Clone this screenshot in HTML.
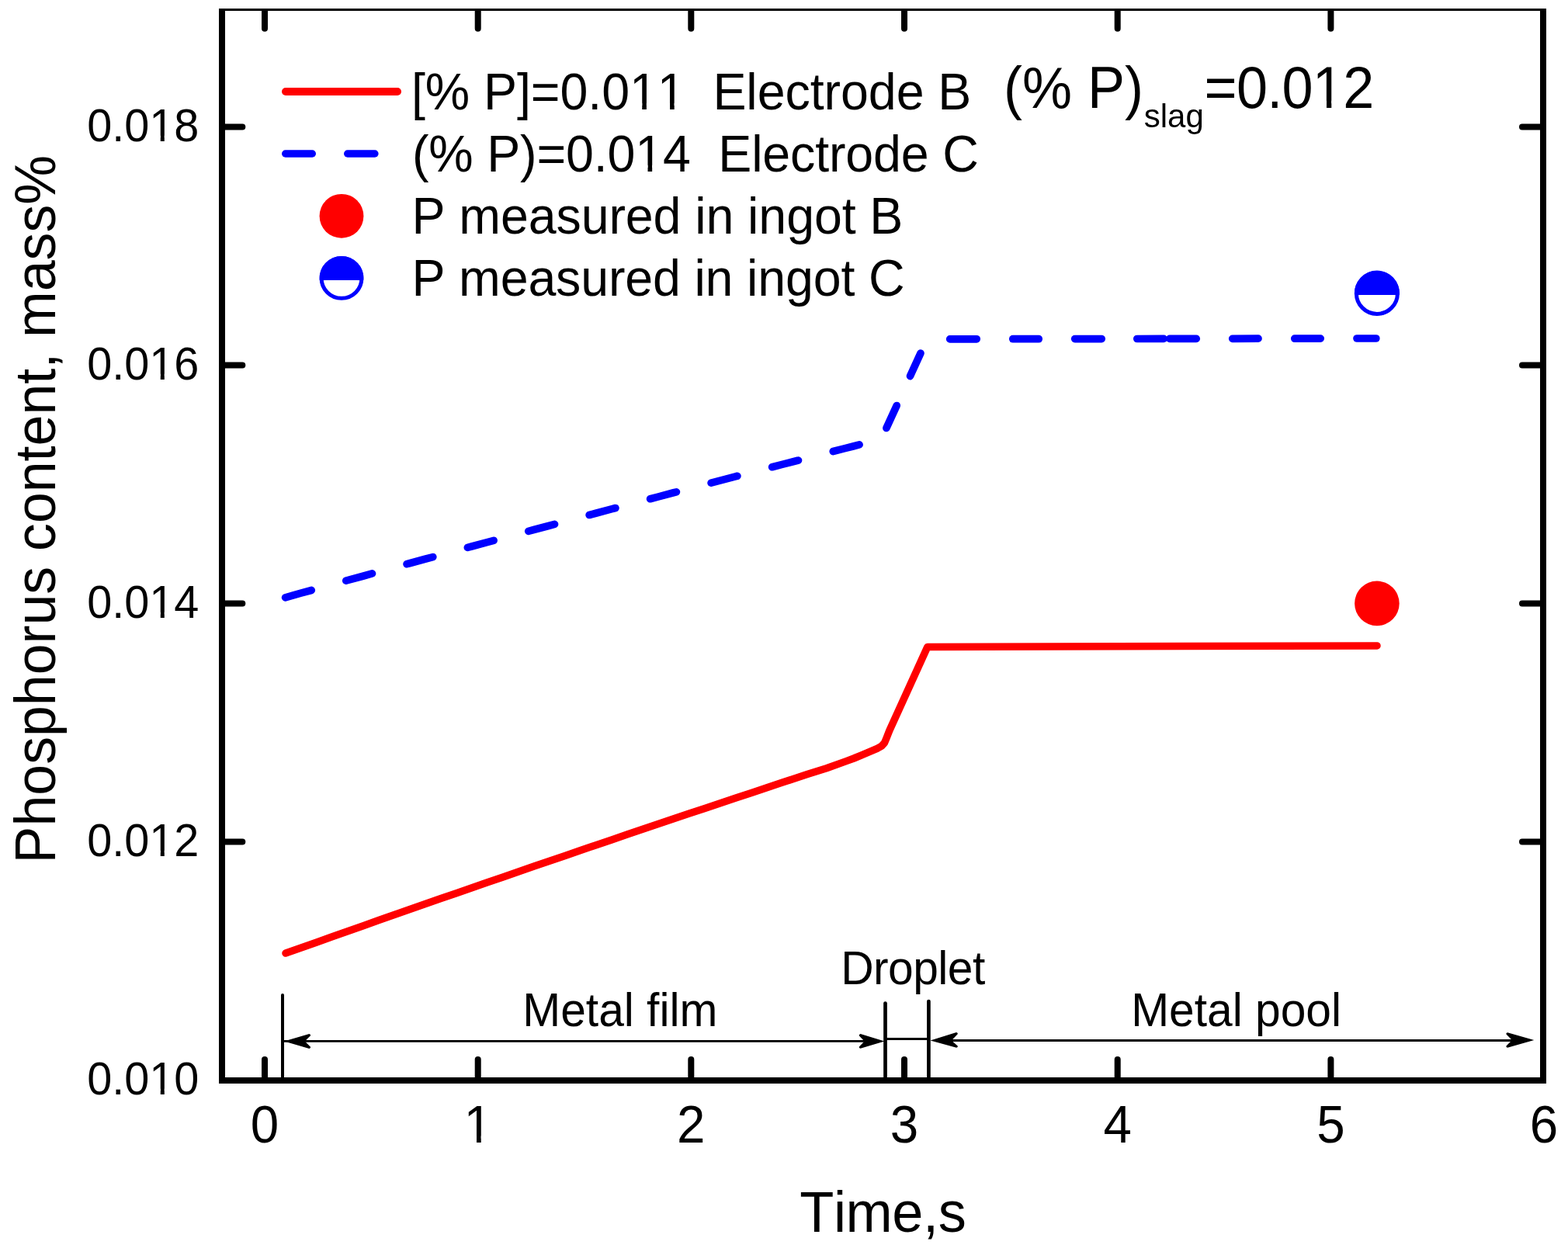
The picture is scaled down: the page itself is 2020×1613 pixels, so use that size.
<!DOCTYPE html>
<html><head><meta charset="utf-8"><title>Phosphorus content vs time</title><style>html,body{margin:0;padding:0;background:#fff;overflow:hidden;}svg{display:block;}text{font-family:"Liberation Sans",Arial,sans-serif;white-space:pre;fill:#000;font-kerning:none;}</style></head><body>
<svg width="2020" height="1613" viewBox="0 0 2020 1613">
<rect width="2020" height="1613" fill="#fff"/>
<g fill="#000"><rect x="282" y="11" width="8" height="1385"/><rect x="282" y="1388" width="1710" height="8"/><rect x="1984" y="11" width="8" height="1385"/><rect x="282" y="11" width="1710" height="3"/></g>
<g stroke="#000" stroke-width="8" stroke-linecap="round" fill="none">
<line x1="341" y1="1388" x2="341" y2="1365"/>
<line x1="615.7" y1="1388" x2="615.7" y2="1365"/>
<line x1="890.3" y1="1388" x2="890.3" y2="1365"/>
<line x1="1165" y1="1388" x2="1165" y2="1365"/>
<line x1="1439.7" y1="1388" x2="1439.7" y2="1365"/>
<line x1="1714.4" y1="1388" x2="1714.4" y2="1365"/>
<line x1="290" y1="1084.5" x2="312.3" y2="1084.5"/>
<line x1="1984" y1="1084.5" x2="1961" y2="1084.5"/>
<line x1="290" y1="777.5" x2="312.3" y2="777.5"/>
<line x1="1984" y1="777.5" x2="1961" y2="777.5"/>
<line x1="290" y1="470.5" x2="312.3" y2="470.5"/>
<line x1="1984" y1="470.5" x2="1961" y2="470.5"/>
<line x1="290" y1="163.5" x2="312.3" y2="163.5"/>
<line x1="1984" y1="163.5" x2="1961" y2="163.5"/>
</g>
<path fill="#000" d="M337,13V36.7A4,4 0 0 0 345,36.7V13ZM611.7,13V36.7A4,4 0 0 0 619.7,36.7V13ZM886.3,13V36.7A4,4 0 0 0 894.3,36.7V13ZM1161,13V36.7A4,4 0 0 0 1169,36.7V13ZM1435.7,13V36.7A4,4 0 0 0 1443.7,36.7V13ZM1710.4,13V36.7A4,4 0 0 0 1718.4,36.7V13Z"/>
<text transform="translate(112.2,1410.0) scale(1,1.04)" font-size="57.6">0.010</text>
<text transform="translate(112.2,1103.0) scale(1,1.04)" font-size="57.6">0.012</text>
<text transform="translate(112.2,796.0) scale(1,1.04)" font-size="57.6">0.014</text>
<text transform="translate(112.2,489.0) scale(1,1.04)" font-size="57.6">0.016</text>
<text transform="translate(112.2,182.0) scale(1,1.04)" font-size="57.6">0.018</text>
<text transform="translate(341.0,1471.8) scale(1,1.04)" font-size="65.5" text-anchor="middle">0</text>
<text transform="translate(615.7,1471.8) scale(1,1.04)" font-size="65.5" text-anchor="middle">1</text>
<text transform="translate(890.3,1471.8) scale(1,1.04)" font-size="65.5" text-anchor="middle">2</text>
<text transform="translate(1165.0,1471.8) scale(1,1.04)" font-size="65.5" text-anchor="middle">3</text>
<text transform="translate(1439.7,1471.8) scale(1,1.04)" font-size="65.5" text-anchor="middle">4</text>
<text transform="translate(1714.4,1471.8) scale(1,1.04)" font-size="65.5" text-anchor="middle">5</text>
<text transform="translate(1989.0,1471.8) scale(1,1.04)" font-size="65.5" text-anchor="middle">6</text>
<text transform="translate(1030.2,1587.0) scale(1,1.02)" font-size="72.2" textLength="214.7" lengthAdjust="spacing">Time,s</text>
<text transform="translate(71,1112.4) rotate(-90) scale(1,1.04)" font-size="71.7">Phosphorus content, mass%</text>
<line x1="368" y1="118" x2="512" y2="118" stroke="#f00" stroke-width="10" stroke-linecap="round"/>
<g stroke="#00f" stroke-width="9.4" stroke-linecap="round"><line x1="367.7" y1="198" x2="402.3" y2="198"/><line x1="447.7" y1="198" x2="482.9" y2="198"/></g>
<circle cx="440" cy="278.3" r="28.4" fill="#f00"/>
<path d="M411.7,360.9 A28.4,28.4 0 1 1 468.3,360.9 Z" fill="#00f"/><circle cx="440" cy="358.4" r="25.9" fill="none" stroke="#00f" stroke-width="5"/>
<text transform="translate(529.9,141.0) scale(1,1.04)" font-size="64.5" textLength="721.5" lengthAdjust="spacing">[% P]=0.011  Electrode B</text>
<text transform="translate(530.9,221.0) scale(1,1.04)" font-size="64.5" textLength="730.0" lengthAdjust="spacing">(% P)=0.014  Electrode C</text>
<text transform="translate(530.5,300.5) scale(1,1.04)" font-size="64.5" textLength="632.9" lengthAdjust="spacing">P measured in ingot B</text>
<text transform="translate(530.5,380.5) scale(1,1.04)" font-size="64.5" textLength="635.0" lengthAdjust="spacing">P measured in ingot C</text>
<text transform="translate(1293.1,139.0) scale(1,1.05)" font-size="72">(% P)</text>
<text transform="translate(1473.8,164.3) scale(1,1.03)" font-size="42">slag</text>
<text transform="translate(1551.6,139.0) scale(1,1.05)" font-size="72" textLength="218.6" lengthAdjust="spacing">=0.012</text>
<polyline points="368,1228.1 388,1221 408,1213.9 428,1206.8 448,1199.7 468,1192.7 488,1185.6 508,1178.6 528,1171.6 548,1164.6 568,1157.6 588,1150.7 608,1143.7 628,1136.8 648,1129.9 668,1123 688,1116.1 708,1109.2 728,1102.4 748,1095.5 768,1088.7 788,1081.9 808,1075.1 828,1068.3 848,1061.6 868,1054.8 888,1048.1 908,1041.4 928,1034.7 948,1028 968,1021.4 988,1014.7 1008,1008.1 1028,1001.5 1040,997.5 1064.8,989.7 1089.5,980.9 1100,977 1110,972.8 1120,968.7 1130,964.4 1135.8,961.2 1139.6,956.8 1142.2,950.5 1145.7,941.5 1194.8,833.5 1774,831.9" fill="none" stroke="#f00" stroke-width="9.5" stroke-linejoin="round" stroke-linecap="round"/>
<polyline points="367.6,769.8 387.6,764.2 407.6,758.7 427.6,753.2 447.6,747.6 467.6,742.2 487.6,736.7 507.6,731.2 527.6,725.7 547.6,720.3 567.6,714.9 587.6,709.4 607.6,704 627.6,698.6 647.6,693.2 667.6,687.9 687.6,682.5 707.6,677.2 727.6,671.8 747.6,666.5 767.6,661.2 787.6,655.9 807.6,650.6 827.6,645.3 847.6,640.1 867.6,634.8 887.6,629.6 907.6,624.4 927.6,619.1 947.6,613.9 967.6,608.8 987.6,603.6 1007.6,598.4 1027.6,593.3 1047.6,588.1 1067.6,583 1087.6,577.9 1100,574.7 1120,569.6 1136.1,564.3" fill="none" stroke="#00f" stroke-width="9.7" stroke-linejoin="round" stroke-linecap="round" stroke-dasharray="34.9 46.25"/>
<g stroke="#00f" stroke-width="9.7" stroke-linecap="round"><line x1="1141.9" y1="551.5" x2="1155.2" y2="522.5"/><line x1="1172.5" y1="484.6" x2="1186" y2="455.1"/><line x1="1223.7" y1="436.9" x2="1258.2" y2="436.8"/><line x1="1304.8" y1="436.7" x2="1338.2" y2="436.7"/><line x1="1384.7" y1="436.6" x2="1419.2" y2="436.6"/><line x1="1464.8" y1="436.5" x2="1499.2" y2="436.4"/><line x1="1506.8" y1="436.4" x2="1541.2" y2="436.4"/><line x1="1587.7" y1="436.3" x2="1621" y2="436.2"/><line x1="1667.8" y1="436.2" x2="1701.2" y2="436.1"/><line x1="1748" y1="436" x2="1772.8" y2="436"/></g>
<circle cx="1773.9" cy="777.4" r="28.8" fill="#f00"/>
<path d="M1745,380 A29,29 0 1 1 1802.8,380 Z" fill="#00f"/><circle cx="1773.9" cy="377.9" r="26.5" fill="none" stroke="#00f" stroke-width="5"/>
<g stroke="#000" fill="none" stroke-linecap="round"><line x1="364" y1="1282" x2="364" y2="1390" stroke-width="4"/><line x1="1140.5" y1="1292.5" x2="1140.5" y2="1390" stroke-width="4.7"/><line x1="1196.4" y1="1290" x2="1196.4" y2="1390" stroke-width="4.7"/></g>
<g stroke="#000" fill="none" stroke-width="2.9"><line x1="364" y1="1341.4" x2="1130" y2="1341.4"/><line x1="1140" y1="1338.5" x2="1197" y2="1338.5"/><line x1="1205" y1="1340.5" x2="1970" y2="1340.5"/></g>
<g fill="#000">
<polygon points="366,1341.4 398.4,1332 400,1332.9 400,1334.3 392.7,1341.4 400,1348.7 400,1350.1 398.4,1351"/>
<polygon points="1139.5,1341.5 1108.5,1332.1 1106.9,1333 1106.9,1334.4 1113.5,1341.5 1106.9,1348.5 1106.9,1349.9 1108.5,1350.8"/>
<polygon points="1198.5,1340.5 1232.1,1330 1233.7,1330.9 1233.7,1332.3 1225.8,1340.5 1233.7,1347.5 1233.7,1348.9 1232.1,1349.8"/>
<polygon points="1976.3,1340.1 1942.1,1330.2 1940.5,1331.1 1940.5,1332.5 1947.9,1340.1 1940.5,1347.5 1940.5,1348.9 1942.1,1349.8"/>
</g>
<text transform="translate(673.3,1322.3) scale(1,1.04)" font-size="58.7">Metal film</text>
<text transform="translate(1083.2,1268.0) scale(1,1.04)" font-size="58.7" textLength="186.0" lengthAdjust="spacing">Droplet</text>
<text transform="translate(1457.2,1321.5) scale(1,1.04)" font-size="58.7">Metal pool</text>
<g fill="#fff"><rect x="193.93" y="1402.69" width="12.83" height="8.48"/><rect x="211.79" y="1402.69" width="11.39" height="8.48"/><rect x="193.93" y="1095.69" width="12.83" height="8.48"/><rect x="211.79" y="1095.69" width="11.39" height="8.48"/><rect x="193.93" y="788.69" width="12.83" height="8.48"/><rect x="211.79" y="788.69" width="11.39" height="8.48"/><rect x="193.93" y="481.69" width="12.83" height="8.48"/><rect x="211.79" y="481.69" width="11.39" height="8.48"/><rect x="193.93" y="174.69" width="12.83" height="8.48"/><rect x="211.79" y="174.69" width="11.39" height="8.48"/><rect x="599.40" y="1463.48" width="14.58" height="9.65"/><rect x="619.71" y="1463.48" width="12.95" height="9.65"/><rect x="812.88" y="132.81" width="14.36" height="9.50"/><rect x="832.87" y="132.81" width="12.76" height="9.50"/><rect x="848.70" y="132.81" width="14.36" height="9.50"/><rect x="868.70" y="132.81" width="12.76" height="9.50"/><rect x="820.15" y="212.81" width="14.36" height="9.50"/><rect x="840.15" y="212.81" width="12.76" height="9.50"/><rect x="1692.94" y="129.77" width="16.03" height="10.71"/><rect x="1715.27" y="129.77" width="14.24" height="10.71"/></g>
</svg></body></html>
